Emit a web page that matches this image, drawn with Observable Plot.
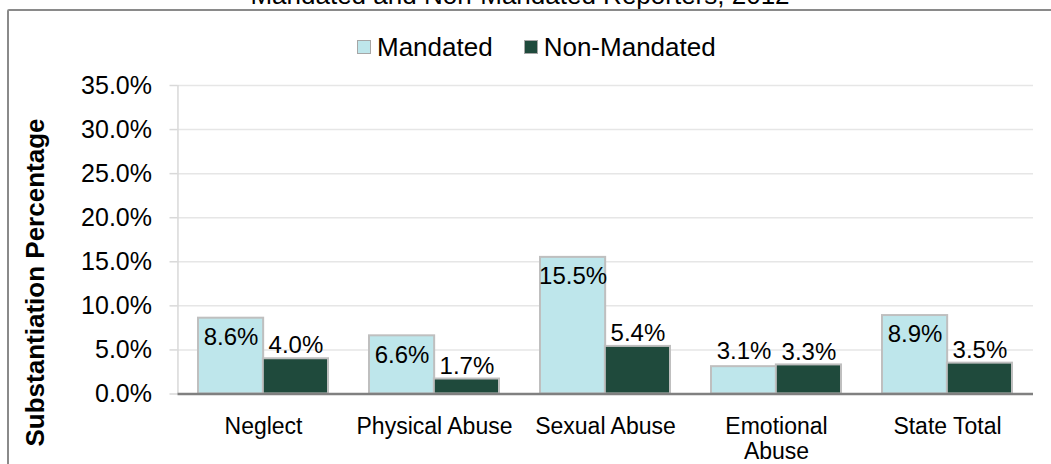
<!DOCTYPE html>
<html>
<head>
<meta charset="utf-8">
<script src="https://cdn.jsdelivr.net/npm/d3@7"></script>
<script src="https://cdn.jsdelivr.net/npm/@observablehq/plot@0.6"></script>
<style>
  html, body { margin: 0; padding: 0; background: #fff; }
  #wrap { position: relative; width: 1051px; height: 464px; overflow: hidden; font-family: "Liberation Sans", Arial, sans-serif; color: #000; }
  #title { position: absolute; left: 0; width: 1040px; top: -17.6px; line-height: 26px; font-size: 26px; text-align: center; white-space: nowrap; }
  #border { position: absolute; left: 7px; top: 9px; width: 1100px; height: 500px; border: 2px solid #8a8a8a; border-radius: 2px; box-sizing: border-box; }
  #legend { position: absolute; left: 357px; top: 33px; display: flex; align-items: center; font-size: 26px; line-height: 28px; white-space: nowrap; }
  #legend .item { display: flex; align-items: center; margin-right: 31px; }
  #legend .sw { width: 12px; height: 12px; border: 1px solid #a6a6a6; margin-right: 6px; }
  #chart { position: absolute; left: 0; top: 0; }
</style>
</head>
<body>
<div id="wrap">
  <div id="border"></div>
  <div id="title"></div>
  <div id="legend"></div>
  <div id="chart"></div>
</div>
<script>
const titleText = "Mandated and Non-Mandated Reporters, 2012";
const yTitle = "Substantiation Percentage";
const categories = ["Neglect", "Physical Abuse", "Sexual Abuse", "Emotional Abuse", "State Total"];
const categoryLabels = ["Neglect", "Physical Abuse", "Sexual Abuse", "Emotional\nAbuse", "State Total"];
const series = ["Mandated", "Non-Mandated"];
const mandated = [8.6, 6.6, 15.5, 3.1, 8.9];
const nonMandated = [4.0, 1.7, 5.4, 3.3, 3.5];
const yTicks = [0, 5, 10, 15, 20, 25, 30, 35];
const colors = ["#BEE6EB", "#1F4A3C"];

const data = categories.flatMap((c, i) => [
  {category: c, series: series[0], value: mandated[i]},
  {category: c, series: series[1], value: nonMandated[i]}
]);

document.getElementById("title").textContent = titleText;
const legend = document.getElementById("legend");
series.forEach((s, i) => {
  const item = document.createElement("div");
  item.className = "item";
  const sw = document.createElement("div");
  sw.className = "sw";
  sw.style.background = colors[i];
  const t = document.createElement("span");
  t.textContent = s;
  item.appendChild(sw);
  item.appendChild(t);
  legend.appendChild(item);
});

const W = 1051, H = 464, mL = 177.5, mR = 18, mT = 85, mB = 70.5;
const pInner = 0.242;
const step = (W - mL - mR) / categories.length;
const bw = step * (1 - pInner);
const frameMidY = mT + (H - mT - mB) / 2;

const mData = data.filter(d => d.series === series[0]);
const nData = data.filter(d => d.series === series[1]);
const fmt = d => d.value.toFixed(1) + "%";

const chart = Plot.plot({
  width: W,
  height: H,
  marginLeft: mL,
  marginRight: mR,
  marginTop: mT,
  marginBottom: mB,
  style: {fontFamily: "'Liberation Sans', Arial, sans-serif", background: "transparent", color: "#000", overflow: "visible"},
  x: {domain: categories, paddingInner: pInner, paddingOuter: pInner / 2, label: null},
  y: {domain: [0, 35], label: null},
  color: {domain: series, range: colors},
  marks: [
    Plot.gridY(yTicks, {stroke: "#E6E6E6", strokeOpacity: 1, strokeWidth: 1.5}),
    Plot.axisY(yTicks, {tickSize: 8, tickPadding: 18, tickFormat: d => d.toFixed(1) + "%", fontSize: 25, stroke: "#D9D9D9", strokeOpacity: 1, strokeWidth: 1.5, fill: "#000", label: null}),
    Plot.ruleX([categories[0]], {x: d => d, dx: -step / 2, y1: 0, y2: 35, stroke: "#D9D9D9", strokeWidth: 1.5}),
    Plot.barY(mData, {x: "category", y: "value", fill: "series", stroke: "#BFBFBF", strokeWidth: 2, insetRight: bw / 2}),
    Plot.barY(nData, {x: "category", y: "value", fill: "series", stroke: "#BFBFBF", strokeWidth: 2, insetLeft: bw / 2}),
    Plot.ruleY([0], {stroke: "#808080", strokeWidth: 2.5}),
    Plot.text(mData.filter(d => d.value > 5), {x: "category", y: "value", text: fmt, dx: -bw / 4, dy: 19, fontSize: 24, fill: "#000"}),
    Plot.text(mData.filter(d => d.value <= 5), {x: "category", y: "value", text: fmt, dx: -bw / 4, dy: -15, fontSize: 24, fill: "#000"}),
    Plot.text(nData, {x: "category", y: "value", text: fmt, dx: bw / 4, dy: -13, fontSize: 24, fill: "#000"}),
    Plot.axisX({tickSize: 0, tickPadding: 22, fontSize: 23, lineHeight: 1.1, fill: "#000", label: null, tickFormat: d => categoryLabels[categories.indexOf(d)]}),
    Plot.text([yTitle], {frameAnchor: "left", textAnchor: "middle", rotate: -90, dx: -(mL - 35), dy: 282 - frameMidY, fontSize: 26, fontWeight: "bold", fill: "#000"})
  ]
});
document.getElementById("chart").appendChild(chart);
</script>
</body>
</html>
